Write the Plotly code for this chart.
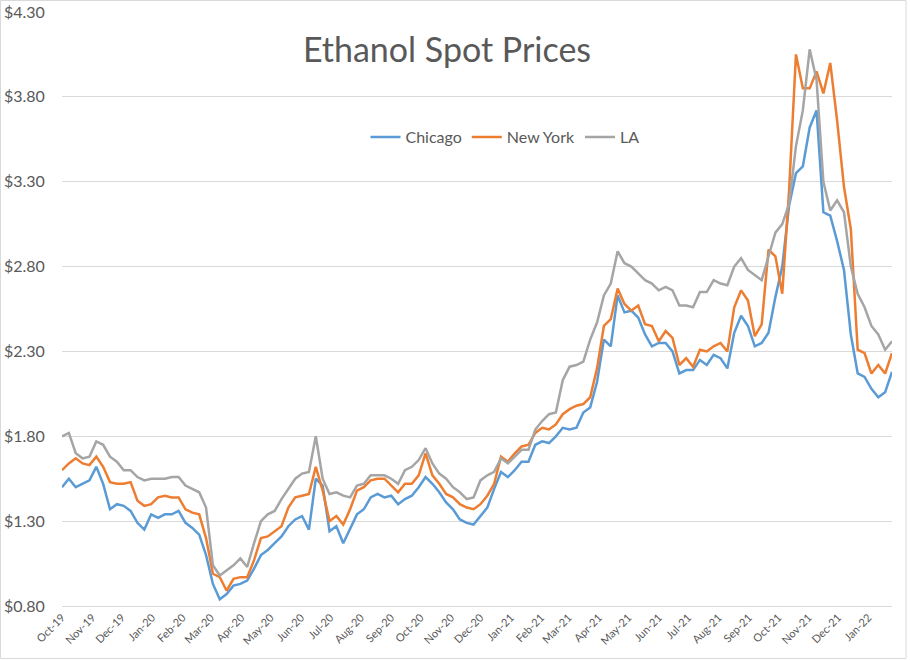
import pandas as pd
import plotly.graph_objects as go

# Weekly samples (starting 2019-10-01)
dates = pd.date_range("2019-10-01", periods=122, freq="7D")

chicago = [
    1.50, 1.55, 1.50, 1.52, 1.54, 1.62, 1.52, 1.37, 1.40, 1.39,
    1.36, 1.29, 1.25, 1.34, 1.32, 1.34, 1.34, 1.36, 1.29, 1.26,
    1.22, 1.10, 0.93, 0.84, 0.87, 0.92, 0.93, 0.95, 1.02, 1.10,
    1.13, 1.17, 1.21, 1.27, 1.31, 1.33, 1.25, 1.55, 1.51, 1.24,
    1.27, 1.17, 1.26, 1.34, 1.37, 1.44, 1.46, 1.44, 1.45, 1.40,
    1.43, 1.45, 1.50, 1.56, 1.52, 1.47, 1.41, 1.37, 1.31, 1.29,
    1.28, 1.33, 1.38, 1.49, 1.59, 1.56, 1.60, 1.65, 1.65, 1.75,
    1.77, 1.76, 1.80, 1.85, 1.84, 1.85, 1.94, 1.97, 2.12, 2.37,
    2.33, 2.63, 2.53, 2.54, 2.50, 2.40, 2.33, 2.35, 2.35, 2.30,
    2.17, 2.19, 2.19, 2.25, 2.22, 2.28, 2.26, 2.20, 2.41, 2.51,
    2.45, 2.33, 2.35, 2.41, 2.62, 2.80, 3.16, 3.35, 3.39, 3.62,
    3.72, 3.12, 3.10, 2.95, 2.78, 2.40, 2.17, 2.15, 2.08, 2.03,
    2.06, 2.18,
]
new_york = [
    1.60, 1.64, 1.67, 1.64, 1.63, 1.68, 1.62, 1.53, 1.52, 1.52,
    1.53, 1.42, 1.39, 1.40, 1.44, 1.45, 1.44, 1.44, 1.37, 1.35,
    1.34, 1.20, 0.99, 0.97, 0.89, 0.96, 0.97, 0.97, 1.07, 1.20,
    1.21, 1.24, 1.27, 1.38, 1.44, 1.45, 1.46, 1.62, 1.48, 1.30,
    1.33, 1.28, 1.37, 1.48, 1.50, 1.54, 1.55, 1.55, 1.51, 1.47,
    1.52, 1.52, 1.57, 1.70, 1.57, 1.52, 1.46, 1.44, 1.40, 1.38,
    1.37, 1.40, 1.45, 1.52, 1.68, 1.65, 1.70, 1.74, 1.75, 1.82,
    1.85, 1.84, 1.87, 1.93, 1.96, 1.98, 1.99, 2.03, 2.20, 2.45,
    2.49, 2.67, 2.58, 2.54, 2.57, 2.46, 2.45, 2.36, 2.42, 2.38,
    2.22, 2.26, 2.21, 2.31, 2.30, 2.33, 2.35, 2.30, 2.56, 2.66,
    2.60, 2.39, 2.46, 2.90, 2.86, 2.64, 3.25, 4.05, 3.85, 3.85,
    3.95, 3.82, 4.00, 3.66, 3.27, 3.02, 2.31, 2.29, 2.17, 2.22,
    2.17, 2.29,
]
la = [
    1.80, 1.82, 1.70, 1.67, 1.68, 1.77, 1.75, 1.68, 1.65, 1.60,
    1.60, 1.56, 1.54, 1.55, 1.55, 1.55, 1.56, 1.56, 1.51, 1.49,
    1.47, 1.38, 1.04, 0.98, 1.01, 1.04, 1.08, 1.03, 1.17, 1.30,
    1.34, 1.36, 1.43, 1.49, 1.55, 1.58, 1.59, 1.80, 1.55, 1.46,
    1.47, 1.45, 1.44, 1.51, 1.52, 1.57, 1.57, 1.57, 1.55, 1.52,
    1.60, 1.62, 1.66, 1.73, 1.64, 1.58, 1.55, 1.50, 1.47, 1.43,
    1.44, 1.54, 1.57, 1.59, 1.67, 1.64, 1.68, 1.72, 1.72, 1.84,
    1.89, 1.93, 1.94, 2.13, 2.21, 2.22, 2.24, 2.37, 2.47, 2.63,
    2.70, 2.89, 2.82, 2.80, 2.76, 2.72, 2.70, 2.66, 2.68, 2.66,
    2.57, 2.57, 2.56, 2.65, 2.65, 2.72, 2.70, 2.69, 2.80, 2.85,
    2.78, 2.75, 2.72, 2.86, 3.00, 3.05, 3.17, 3.51, 3.72, 4.08,
    3.90, 3.30, 3.13, 3.19, 3.12, 2.80, 2.64, 2.56, 2.45, 2.40,
    2.31, 2.36,
]

series_names = ["Chicago", "New York", "LA"]
series_colors = ["#5B9BD5", "#ED7D31", "#A5A5A5"]
y_ticks = [0.80, 1.30, 1.80, 2.30, 2.80, 3.30, 3.80, 4.30]

FONT = "Lato, 'Open Sans', sans-serif"
TXT = "#595959"

fig = go.Figure()
for name, vals, col in zip(series_names, [chicago, new_york, la], series_colors):
    fig.add_trace(go.Scatter(
        x=dates, y=vals, name=name, mode="lines",
        line=dict(color=col, width=2.5),
    ))

W, H = 910, 660
L, R, T, B = 62, 18, 12, 54
pw, ph = W - L - R, H - T - B

fig.update_layout(
    width=W, height=H,
    margin=dict(l=L, r=R, t=T, b=B),
    paper_bgcolor="white", plot_bgcolor="white",
    font=dict(family=FONT, color=TXT),
    title=dict(text="Ethanol Spot Prices", x=447 / W, xanchor="center",
               y=1 - 50 / H, yanchor="middle", yref="container",
               font=dict(size=34, color=TXT, family=FONT)),
    showlegend=True,
    legend=dict(orientation="h", x=(505 - L) / pw, xanchor="center",
                y=(H - B - 137) / ph, yanchor="middle",
                font=dict(size=16, color=TXT), bgcolor="rgba(0,0,0,0)",
                itemwidth=30),
    xaxis=dict(
        type="date", range=[dates[0], dates[-1]],
        tick0="2019-10-01", dtick="M1", tickformat="%b-%y", tickangle=-45,
        tickfont=dict(size=11, color=TXT), showgrid=False,
        showline=True, linecolor="#d9d9d9", ticks="", zeroline=False,
        automargin=False,
    ),
    yaxis=dict(
        range=[0.80, 4.30], tickvals=y_ticks,
        ticktext=[f"${v:.2f}" for v in y_ticks],
        tickfont=dict(size=16, color=TXT), showgrid=True, gridcolor="#d9d9d9",
        gridwidth=1, zeroline=False, ticks="outside", ticklen=13,
        tickcolor="rgba(0,0,0,0)", automargin=False,
    ),
    shapes=[dict(type="rect", xref="paper", yref="paper",
                 x0=(0.5 - L) / pw, x1=(906 - L) / pw,
                 y0=(H - B - 658.5) / ph, y1=(H - B - 0.5) / ph,
                 line=dict(color="#d9d9d9", width=1), fillcolor="rgba(0,0,0,0)")],
)

fig.write_html("out.html")
